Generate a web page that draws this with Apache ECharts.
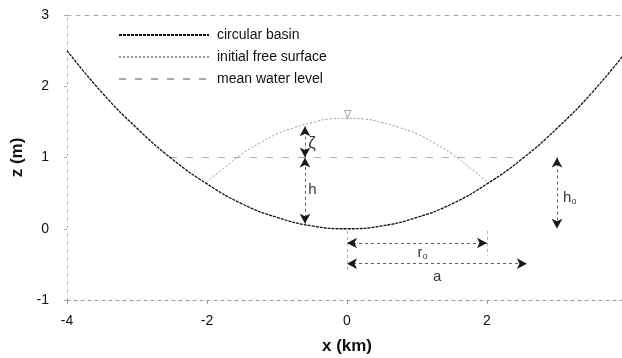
<!DOCTYPE html>
<html>
<head>
<meta charset="utf-8">
<script src="https://cdn.jsdelivr.net/npm/echarts@6/dist/echarts.min.js"></script>
<style>
  html, body { margin: 0; padding: 0; background: #fff; }
  #chart { width: 622px; height: 358px; }
</style>
</head>
<body>
<div id="chart"></div>
<script>
// basin profile (x in km, z in m)
const basinX = [-4, -3.5, -3, -2.5, -2, -1.5, -1, -0.5, 0, 0.5, 1, 1.5, 2, 2.5, 3, 3.5, 4];
const basinZ = [2.5, 1.91, 1.41, 0.98, 0.63, 0.35, 0.16, 0.04, 0, 0.04, 0.16, 0.35, 0.63, 0.98, 1.41, 1.91, 2.5];
// initial free surface (dome)
const surfX = [-2, -1.75, -1.5, -1.25, -1, -0.75, -0.5, -0.25, 0, 0.25, 0.5, 0.75, 1, 1.25, 1.5, 1.75, 2];
const surfZ = [0.66, 0.86, 1.05, 1.2, 1.33, 1.42, 1.49, 1.54, 1.55, 1.54, 1.49, 1.42, 1.33, 1.2, 1.05, 0.86, 0.66];
// mean water level
const mwlX = [-2.53, 2.53];
const mwlZ = [1, 1];
const seriesNames = ['circular basin', 'initial free surface', 'mean water level'];

const pairs = (xs, ys) => xs.map((x, i) => [x, ys[i]]);

const chart = echarts.init(document.getElementById('chart'));

// arrow heads take the line colour, so keep it dark
const arrowLine = { color: '#1a1a1a', width: 0.7, type: [3, 3] };
const arrow = (a, b) => [
  { coord: a, symbol: 'arrow' },
  { coord: b, symbol: 'arrow' }
];
const guide = (a, b) => [
  { coord: a, symbol: 'none', lineStyle: { color: '#999', width: 0.8, type: [3, 3] } },
  { coord: b, symbol: 'none' }
];

const font = 'Liberation Sans, Arial';

option = {
  animation: false,
  grid: { left: 67, right: -5, top: 15, bottom: 58, outerBoundsMode: 'none' },
  legend: {
    data: seriesNames,
    orient: 'vertical',
    left: 113,
    top: 23,
    itemWidth: 90,
    itemHeight: 14,
    itemGap: 8,
    itemStyle: { opacity: 0 },
    textStyle: { fontSize: 14, color: '#111', fontFamily: font, padding: [0, 0, 0, 3] }
  },
  xAxis: [{
    type: 'value', min: -4, max: 4, interval: 2,
    axisLine: { onZero: false, lineStyle: { color: '#999', type: [3, 4], width: 1 } },
    axisTick: { show: true, length: 4, lineStyle: { color: '#999' } },
    splitLine: { show: false },
    axisLabel: { margin: 14, fontSize: 14, color: '#111', fontFamily: font, showMaxLabel: true },
    name: 'x (km)', nameLocation: 'middle', nameGap: 38,
    nameTextStyle: { fontSize: 17, fontWeight: 'bold', color: '#111', fontFamily: font }
  }, {
    type: 'value', min: -4, max: 4, position: 'top',
    axisLine: { onZero: false, lineStyle: { color: '#aaa', type: [4, 5], width: 1 } },
    axisTick: { show: false }, axisLabel: { show: false }, splitLine: { show: false }
  }],
  yAxis: {
    type: 'value', min: -1, max: 3, interval: 1,
    axisLine: { show: true, onZero: false, lineStyle: { color: '#aaa', type: [2, 6], width: 1 } },
    axisTick: { show: true, length: 3, lineStyle: { color: '#aaa' } },
    splitLine: { show: false },
    axisLabel: { margin: 18, fontSize: 14, color: '#111', fontFamily: font },
    name: 'z (m)', nameLocation: 'middle', nameGap: 40, nameRotate: 90,
    nameTextStyle: { fontSize: 17, fontWeight: 'bold', color: '#111', fontFamily: font }
  },
  series: [
    {
      name: seriesNames[0], type: 'line', smooth: true, symbol: 'none',
      data: pairs(basinX, basinZ),
      itemStyle: { color: '#111' },
      lineStyle: { color: '#111', width: 1.3, type: [3, 1] },
      z: 5
    },
    {
      name: seriesNames[1], type: 'line', smooth: true, symbol: 'none',
      data: pairs(surfX, surfZ),
      itemStyle: { color: '#999' },
      lineStyle: { color: '#999', width: 1, type: [2, 2] }
    },
    {
      name: seriesNames[2], type: 'line', symbol: 'none',
      data: pairs(mwlX, mwlZ),
      itemStyle: { color: '#aaa' },
      lineStyle: { color: '#aaa', width: 1, type: [7, 9] },
      markLine: {
        silent: true,
        symbolSize: [8, 10],
        lineStyle: arrowLine,
        label: { show: false },
        data: [
          arrow([-0.6, 1.0], [-0.6, 1.44]),
          arrow([-0.6, 0.07], [-0.6, 1.0]),
          arrow([3, 1.0], [3, 0]),
          arrow([0, -0.2], [2, -0.2]),
          arrow([0, -0.49], [2.57, -0.49]),
          guide([0, -0.03], [0, -0.62]),
          guide([2, -0.03], [2, -0.38])
        ]
      }
    },
    {
      name: 'labels', type: 'scatter', symbolSize: 1,
      itemStyle: { color: 'rgba(0,0,0,0)' },
      silent: true,
      data: [
        { value: [-0.56, 1.2], label: { formatter: 'ζ', fontSize: 17 } },
        { value: [-0.56, 0.54], label: { formatter: 'h' } },
        { value: [3.08, 0.44], label: { formatter: 'h{s|o}' } },
        { value: [1.0, -0.34], label: { formatter: 'r{s|o}' } },
        { value: [1.22, -0.68], label: { formatter: 'a' } },
        { value: [-0.05, 1.6], label: { formatter: '∇', color: '#999', fontSize: 11 } }
      ],
      label: {
        show: true, position: 'right', distance: 0,
        color: '#000', fontSize: 15, fontFamily: font,
        rich: { s: { fontSize: 9, color: '#000', padding: [8, 0, 0, 0] } }
      }
    }
  ]
};

chart.setOption(option);
</script>
</body>
</html>
